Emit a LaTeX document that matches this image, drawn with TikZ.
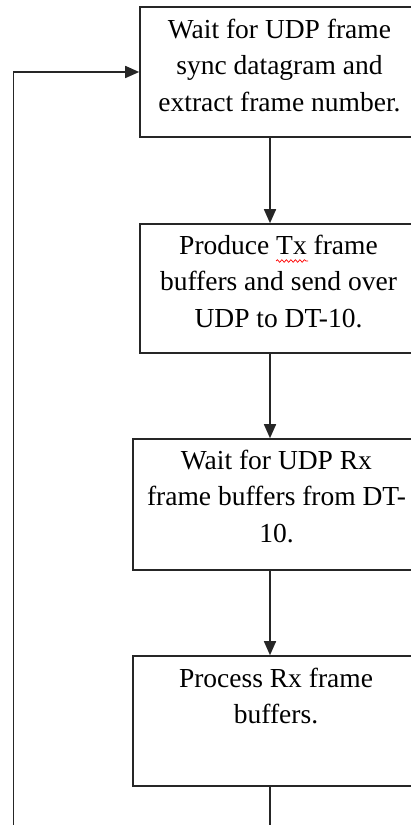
\documentclass[tikz,border=0pt]{standalone}
\usepackage{fontspec}
\setmainfont{Liberation Serif}
\usetikzlibrary{arrows.meta,decorations.pathmorphing}
\begin{document}
\begin{tikzpicture}[x=1pt,y=1pt,
  box/.style={draw=black!85, line width=1.6pt, rectangle, inner sep=0pt, fill=white},
  txt/.style={align=center, inner sep=0pt, font=\fontsize{27.5}{36.6}\selectfont, text=black},
  flow/.style={draw=black!85, line width=1.6pt, -{Triangle[length=14pt,width=12pt]}}]
\useasboundingbox[fill=white] (0,0) rectangle (411,825);
\node[box, minimum width=279pt, minimum height=130pt] (b1) at (279.5,753) {};
\node[box, minimum width=277pt, minimum height=129pt] (b2) at (278.5,536.5) {};
\node[box, minimum width=287pt, minimum height=131pt] (b3) at (276.5,320.5) {};
\node[box, minimum width=286pt, minimum height=130pt] (b4) at (276,104) {};
\coordinate (ax) at (270,0);
\coordinate (lx) at (13.5,0);
\coordinate (bot) at (0,-20);
\node[txt, anchor=base] (t1) at ([yshift=-105.2pt]b1.north) {Wait for UDP frame\\sync datagram and\\extract frame number.};
\node[txt, anchor=base] (t2) at ([yshift=-104.2pt]b2.north) {Produce Tx frame\\buffers and send over\\UDP to DT-10.};
\node[txt, anchor=base] (t3) at ([yshift=-104.2pt]b3.north) {Wait for UDP Rx\\frame buffers from DT-\\10.};
\node[txt, anchor=base] (t4) at ([yshift=-68.6pt]b4.north) {Process Rx frame\\buffers.};
\draw[red, line width=0.7pt, decorate, decoration={snake, segment length=4.5pt, amplitude=1.3pt}] (276,564) -- (308,564);
\draw[flow] (b1.south -| ax) -- (b2.north -| ax);
\draw[flow] (b2.south -| ax) -- (b3.north -| ax);
\draw[flow] (b3.south -| ax) -- (b4.north -| ax);
\draw[flow] (b4.south -| ax) -- (bot -| ax) -- (bot -| lx) -- (b1.west -| lx) -- (b1.west);
\end{tikzpicture}
\end{document}
